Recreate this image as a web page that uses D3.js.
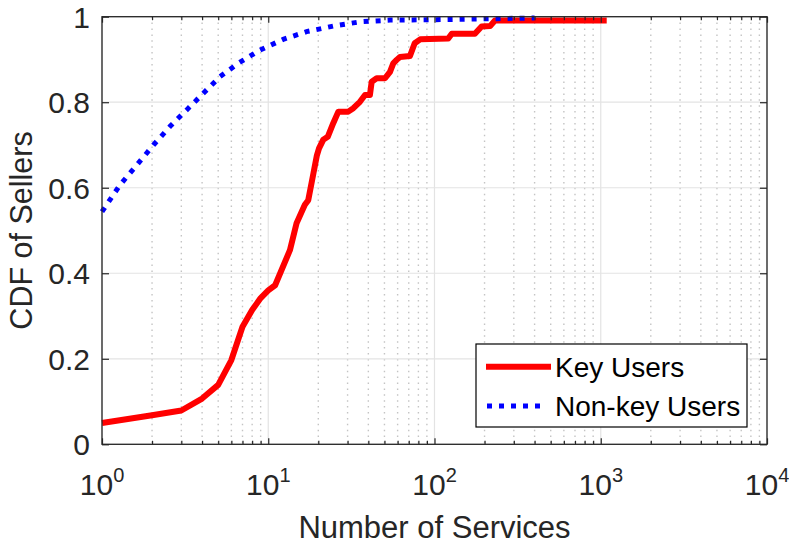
<!DOCTYPE html>
<html>
<head>
<meta charset="utf-8">
<script src="https://cdn.jsdelivr.net/npm/d3@7"></script>
<style>
  body { margin: 0; background: #fff; }
  svg { font-family: "Liberation Sans", Arial, Helvetica, sans-serif; }
  .domain { display: none; }
</style>
</head>
<body>
<div id="chart"></div>
<script>
// Key users: number of services vs CDF
var keyX = [1, 2, 3, 4, 5, 6, 7, 8, 9, 10, 11, 13.5, 14.8, 16.6, 17.4, 18.7, 19.6, 20.2, 21.4, 22.8,
    24.6, 26.4, 30.3, 32.5, 35.6, 38.2, 40.9, 41.9, 44.9, 50.4, 54, 56.5, 59.2, 62, 71.2, 76, 82,
    121, 127, 175, 192, 216, 231, 1086];
var keyY = [0.05, 0.068, 0.079, 0.107, 0.139, 0.197, 0.275, 0.314, 0.342, 0.36, 0.372, 0.454, 0.517, 0.56, 0.571, 0.634, 0.675, 0.692, 0.712, 0.719,
    0.751, 0.778, 0.778, 0.786, 0.801, 0.817, 0.817, 0.848, 0.856, 0.856, 0.871, 0.891, 0.899, 0.906, 0.908, 0.938, 0.947,
    0.949, 0.96, 0.96, 0.977, 0.978, 0.991, 0.991];

// Non-key users
var nonKeyX = [1, 1.28, 1.65, 2.04, 2.56, 3.23, 4.07, 5.13, 6.6, 8.92, 12.3, 17, 24.6, 35.6, 54, 100, 200, 400];
var nonKeyY = [0.544, 0.606, 0.657, 0.7, 0.743, 0.782, 0.821, 0.86, 0.891, 0.922, 0.947, 0.965, 0.978, 0.988, 0.992, 0.993, 0.995, 0.997];

var xDecades = [1, 10, 100, 1000, 10000];
var xExponents = ['0', '1', '2', '3', '4'];
var yTicks = [0, 0.2, 0.4, 0.6, 0.8, 1];
var yTickLabels = ['0', '0.2', '0.4', '0.6', '0.8', '1'];
var seriesNames = ['Key Users', 'Non-key Users'];

var W = 789, H = 547;
var margin = { top: 16.7, left: 102, bottom: 102.7, right: 22 },
    width = W - margin.left - margin.right,
    height = H - margin.top - margin.bottom;

var axisColor = '#262626';

var svg = d3.select('#chart').append('svg')
    .attr('width', W)
    .attr('height', H)
    .append('g')
    .attr('transform', 'translate(' + margin.left + ', ' + margin.top + ')');

var x = d3.scaleLog().domain([1, 10000]).range([0, width]);
var y = d3.scaleLinear().domain([0, 1]).range([height, 0]);

// minor positions 2..9 in each decade
var minor = [];
xDecades.slice(0, -1).forEach(d => {
    for (var k = 2; k < 10; k++) minor.push(d * k);
});

// grid
svg.append('g')
    .attr('class', 'minor-grid')
    .selectAll('line')
    .data(minor)
    .enter()
    .append('line')
    .attr('x1', d => x(d)).attr('x2', d => x(d))
    .attr('y1', 0).attr('y2', height)
    .attr('stroke', '#c4c4c4')
    .attr('stroke-width', 1.4)
    .attr('stroke-dasharray', '1.5,4.4');

svg.append('g')
    .attr('class', 'grid')
    .selectAll('line')
    .data(xDecades)
    .enter()
    .append('line')
    .attr('x1', d => x(d)).attr('x2', d => x(d))
    .attr('y1', 0).attr('y2', height)
    .attr('stroke', '#e3e3e3')
    .attr('stroke-width', 1.2);

svg.append('g')
    .attr('class', 'grid')
    .selectAll('line')
    .data(yTicks)
    .enter()
    .append('line')
    .attr('x1', 0).attr('x2', width)
    .attr('y1', d => y(d)).attr('y2', d => y(d))
    .attr('stroke', '#e3e3e3')
    .attr('stroke-width', 1.2);

// curves
var line = d3.line()
    .x(d => x(d[0]))
    .y(d => y(d[1]));

svg.append('path')
    .datum(d3.zip(keyX, keyY))
    .attr('fill', 'none')
    .attr('stroke', '#ff0000')
    .attr('stroke-width', 6)
    .attr('stroke-linejoin', 'round')
    .attr('d', line);

svg.append('path')
    .datum(d3.zip(nonKeyX, nonKeyY))
    .attr('fill', 'none')
    .attr('stroke', '#0000ff')
    .attr('stroke-width', 5)
    .attr('stroke-dasharray', '5,7')
    .attr('d', line);

// ticks, all pointing inward
function styleAxis(g) {
    g.selectAll('line').attr('stroke', axisColor).attr('stroke-width', 1.2);
}

svg.append('g')
    .attr('transform', 'translate(0,' + height + ')')
    .call(d3.axisBottom(x).tickValues(xDecades).tickSize(-6).tickFormat(''))
    .call(styleAxis);
svg.append('g')
    .attr('transform', 'translate(0,' + height + ')')
    .call(d3.axisBottom(x).tickValues(minor).tickSize(-3.5).tickFormat(''))
    .call(styleAxis);
svg.append('g')
    .call(d3.axisTop(x).tickValues(xDecades).tickSize(-6).tickFormat(''))
    .call(styleAxis);
svg.append('g')
    .call(d3.axisTop(x).tickValues(minor).tickSize(-3.5).tickFormat(''))
    .call(styleAxis);
svg.append('g')
    .call(d3.axisLeft(y).tickValues(yTicks).tickSize(-7).tickFormat(''))
    .call(styleAxis);
svg.append('g')
    .attr('transform', 'translate(' + width + ',0)')
    .call(d3.axisRight(y).tickValues(yTicks).tickSize(-7).tickFormat(''))
    .call(styleAxis);

// box
svg.append('rect')
    .attr('x', 0).attr('y', 0)
    .attr('width', width).attr('height', height)
    .attr('fill', 'none')
    .attr('stroke', axisColor)
    .attr('stroke-width', 1.3);

// tick labels
var xl = svg.selectAll('.xlabel')
    .data(xDecades)
    .enter()
    .append('text')
    .attr('class', 'xlabel')
    .attr('x', d => x(d))
    .attr('y', height + 50.7)
    .attr('text-anchor', 'middle')
    .attr('fill', axisColor)
    .style('font-size', '30px');
xl.append('tspan').text('10');
xl.append('tspan')
    .text((d, i) => xExponents[i])
    .attr('dy', -13)
    .style('font-size', '20px');

svg.selectAll('.ylabel')
    .data(yTicks)
    .enter()
    .append('text')
    .attr('class', 'ylabel')
    .attr('x', -12)
    .attr('y', d => y(d) + 11)
    .attr('text-anchor', 'end')
    .attr('fill', axisColor)
    .style('font-size', '30px')
    .text((d, i) => yTickLabels[i]);

// axis titles
svg.append('text')
    .attr('x', x(100))
    .attr('y', height + 93.7)
    .attr('text-anchor', 'middle')
    .attr('fill', axisColor)
    .style('font-size', '31px')
    .text('Number of Services');

svg.append('text')
    .attr('transform', 'rotate(-90)')
    .attr('x', -(y(0.5)))
    .attr('y', -margin.left + 32)
    .attr('text-anchor', 'middle')
    .attr('fill', axisColor)
    .style('font-size', '30.5px')
    .text('CDF of Sellers');

// legend
var lg = svg.append('g')
    .attr('transform', 'translate(' + (476 - margin.left) + ',' + (344 - margin.top) + ')');

lg.append('rect')
    .attr('width', 271)
    .attr('height', 83)
    .attr('fill', '#fff')
    .attr('stroke', '#000')
    .attr('stroke-width', 1.2);

lg.append('line')
    .attr('x1', 10).attr('x2', 75)
    .attr('y1', 22.7).attr('y2', 22.7)
    .attr('stroke', '#ff0000')
    .attr('stroke-width', 6);

lg.append('line')
    .attr('x1', 11).attr('x2', 71)
    .attr('y1', 62).attr('y2', 62)
    .attr('stroke', '#0000ff')
    .attr('stroke-width', 5)
    .attr('stroke-dasharray', '5,7');

lg.selectAll('.legtext')
    .data(seriesNames)
    .enter()
    .append('text')
    .attr('class', 'legtext')
    .attr('x', 79)
    .attr('y', (d, i) => 33 + i * 39)
    .attr('fill', '#000')
    .style('font-size', '28px')
    .text(d => d);
</script>
</body>
</html>
